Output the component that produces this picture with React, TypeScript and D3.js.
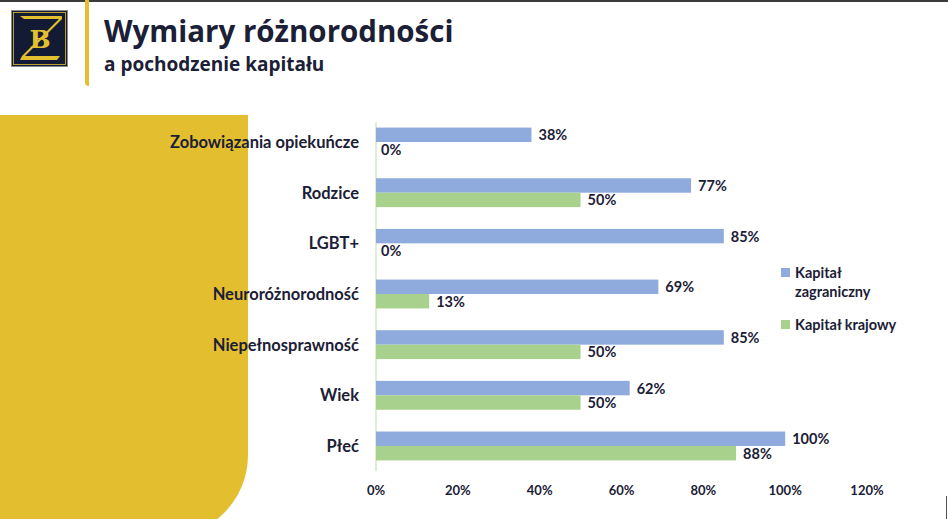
import React from 'react';
import * as d3 from 'd3';

// category order top -> bottom
const categories = [
  'Zobowiązania opiekuńcze',
  'Rodzice',
  'LGBT+',
  'Neuroróżnorodność',
  'Niepełnosprawność',
  'Wiek',
  'Płeć',
];
const foreignCapital = [38, 77, 85, 69, 85, 62, 100];
const domesticCapital = [0, 50, 0, 13, 50, 50, 88];
const xTicks = [0, 20, 40, 60, 80, 100, 120];
const seriesNames = ['Kapitał zagraniczny', 'Kapitał krajowy'];

const W = 948;
const H = 519;
const BLUE = '#8faadc';
const GREEN = '#a9d18e';
const GOLD = '#e3bf2f';
const INK = '#1b2036';
const FONT = 'Lato, "Open Sans", sans-serif';

const App: React.FC = () => {
  const x = d3.scaleLinear().domain([0, 120]).range([376, 867]);
  const y = d3.scaleBand<string>()
    .domain(categories)
    .range([116.7, 471.3])
    .paddingInner(0.43)
    .paddingOuter(0.215);
  const sub = d3.scaleBand<string>().domain(['f', 'd']).range([0, y.bandwidth()]);

  const series = [
    { key: 'f', values: foreignCapital, color: BLUE },
    { key: 'd', values: domesticCapital, color: GREEN },
  ];

  // yellow side panel with rounded lower-right corner
  const panel = d3.path();
  panel.moveTo(0, 115);
  panel.lineTo(248, 115);
  panel.lineTo(248, 455);
  panel.arcTo(248, 537, 166, 537, 82);
  panel.lineTo(0, 537);
  panel.closePath();

  return (
    <div style={{ position: 'fixed', left: 0, top: 0 }}>
      <svg width={W} height={H} style={{ display: 'block', background: '#fff' }}>
        <rect x={0} y={0} width={W} height={2} fill="#3a3a3a" />
        <path d={panel.toString()} fill={GOLD} />

        {/* logo */}
        <rect x={11} y={10} width={57} height={57} fill="#8a8a8a" />
        <rect x={12} y={11} width={55} height={55} fill="#131a33" />
        <rect x={13.5} y={12.5} width={52} height={52} fill="none" stroke={GOLD} strokeWidth={0.8} />
        <path d="M20,16 H62 L60,19 H24 Z" fill={GOLD} />
        <path d="M62,16 L22,56 H25 L62,19 Z" fill={GOLD} />
        <path d="M22,56 H60 L57,60 H20 Z" fill={GOLD} />
        <text x={40} y={48} textAnchor="middle" fontFamily="'DejaVu Serif', serif" fontWeight="bold"
          fontSize={25} fill={GOLD}>B</text>

        {/* title divider */}
        <path d="M85,0 V82 Q85,86 89,86 V0 Z" fill={GOLD} />

        <text x={104} y={42} fontFamily='"Open Sans", sans-serif' fontWeight="bold" fontSize={29.5} fill={INK}>
          Wymiary różnorodności
        </text>
        <text x={104} y={71} fontFamily='"Open Sans", sans-serif' fontWeight="bold" fontSize={19} fill={INK}>
          a pochodzenie kapitału
        </text>

        {/* axis line */}
        <line x1={x(0)} x2={x(0)} y1={122} y2={471} stroke="#dfeed4" strokeWidth={2} />

        {categories.map((c) => (
          <text key={c} x={359} y={(y(c) ?? 0) + y.bandwidth() / 2 + 6} textAnchor="end"
            fontFamily={FONT} fontWeight="bold" fontSize={16.5} fill={INK}>{c}</text>
        ))}

        {series.map((s) =>
          categories.map((c, i) => {
            const by = (y(c) ?? 0) + (sub(s.key) ?? 0);
            const v = s.values[i];
            return (
              <g key={s.key + c}>
                {v > 0 && (
                  <rect x={x(0)} y={by} width={x(v) - x(0)} height={sub.bandwidth()} fill={s.color} />
                )}
                <text x={x(v) + (v > 0 ? 7 : 5)} y={by + sub.bandwidth() / 2 + 5.5}
                  fontFamily={FONT} fontWeight="bold" fontSize={14.5} fill={INK}>{v}%</text>
              </g>
            );
          })
        )}

        {xTicks.map((t) => (
          <text key={t} x={x(t)} y={495} textAnchor="middle" fontFamily={FONT} fontWeight="bold"
            fontSize={13} fill={INK}>{t}%</text>
        ))}

        {/* legend */}
        <rect x={781} y={268} width={9} height={9} fill={BLUE} />
        <text x={795} y={278} fontFamily={FONT} fontWeight="bold" fontSize={14.5} fill={INK}>
          <tspan x={795}>{seriesNames[0].split(' ')[0]}</tspan>
          <tspan x={795} dy={19}>{seriesNames[0].split(' ')[1]}</tspan>
        </text>
        <rect x={781} y={320} width={9} height={9} fill={GREEN} />
        <text x={795} y={330} fontFamily={FONT} fontWeight="bold" fontSize={14.5} fill={INK}>{seriesNames[1]}</text>

        <line x1={946.5} x2={946.5} y1={496} y2={519} stroke="#555" strokeWidth={1} />
      </svg>
    </div>
  );
};

export default App;
